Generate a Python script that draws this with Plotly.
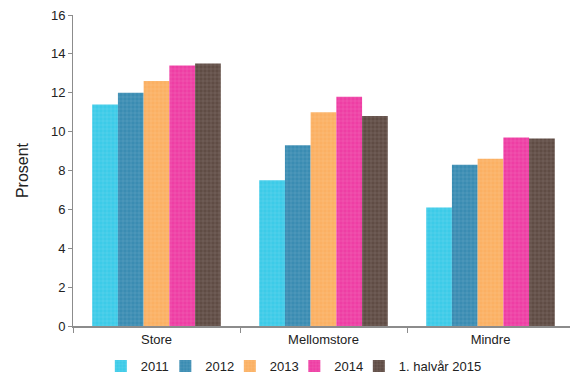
import plotly.graph_objects as go

categories = ["Store", "Mellomstore", "Mindre"]
series_names = ["2011", "2012", "2013", "2014", "1. halvår 2015"]
v2011 = [11.4, 7.5, 6.1]
v2012 = [12.0, 9.3, 8.3]
v2013 = [12.6, 11.0, 8.6]
v2014 = [13.4, 11.8, 9.7]
v2015h1 = [13.5, 10.8, 9.65]
series_values = [v2011, v2012, v2013, v2014, v2015h1]
colors = ["#3CCBE8", "#3A8CB2", "#FBB063", "#EE3EA4", "#5F4C44"]

fig = go.Figure()
for i, (name, vals, col) in enumerate(zip(series_names, series_values, colors)):
    fig.add_trace(go.Bar(
        x=categories, y=vals, name=name,
        legendwidth=19.5 if i < len(series_names) - 1 else None,
        marker=dict(color=col, line=dict(width=0),
                    pattern=dict(shape="+", size=4, solidity=0.15,
                                 fgcolor="white", fgopacity=0.3)),
    ))

fig.update_layout(
    width=570, height=373,
    margin=dict(l=73, r=0, t=15, b=47, autoexpand=False),
    paper_bgcolor="white", plot_bgcolor="white",
    barmode="group", bargap=0.23, bargroupgap=0,
    font=dict(family="Liberation Sans, Arial, sans-serif", size=13, color="#222"),
    showlegend=True,
    legend=dict(orientation="h", x=0.056, xanchor="left",
                y=-0.1286, yanchor="middle",
                font=dict(size=13), itemwidth=30, tracegroupgap=0),
)
fig.update_xaxes(
    range=[-0.5, 2.476],
    showline=True, linecolor="#8c8c8c", linewidth=2,
    ticks="outside", tickson="boundaries", ticklen=5, tickcolor="#8c8c8c",
    showgrid=False,
)
fig.update_yaxes(
    range=[0, 16], dtick=2, showline=True, linecolor="#8c8c8c", linewidth=1,
    ticks="outside", ticklen=4, tickcolor="#8c8c8c", showgrid=False, zeroline=False,
    title=dict(text="Prosent", standoff=18),
)
fig.write_html("out.html")
